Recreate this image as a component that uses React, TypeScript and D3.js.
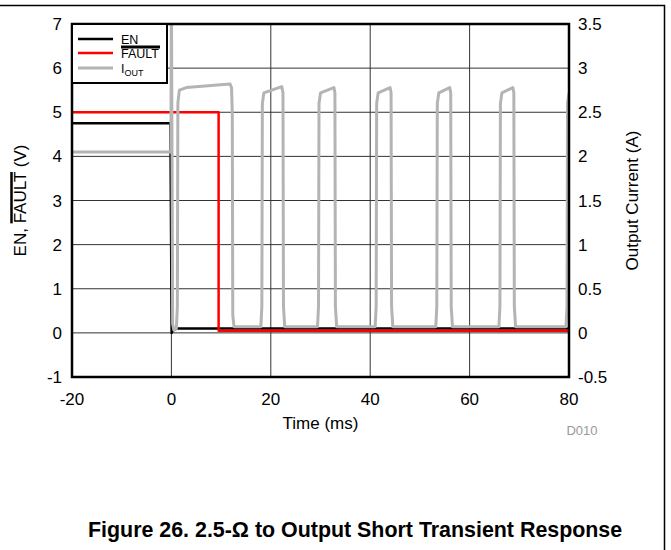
import React, { useEffect, useRef } from "react";
import * as d3 from "d3";

const xTicks = [-20, 0, 20, 40, 60, 80];
const yLeftTicks = [-1, 0, 1, 2, 3, 4, 5, 6, 7];
const yRightTicks = [-0.5, 0, 0.5, 1, 1.5, 2, 2.5, 3, 3.5];

// EN (V)
const enTime = [-20, -0.2, 0.05, 0.4, 1.2, 80];
const enVolt = [4.75, 4.75, 0.0, 0.06, 0.1, 0.1];

// FAULT (V)
const faultTime = [-20, 9.5, 9.5, 80];
const faultVolt = [5, 5, 0.05, 0.05];

// IOUT (A)
const ioutTime = [
  -20, -0.1, 0.0, 0.25, 0.5, 1.0, 1.2, 1.3, 1.6, 3, 11.8, 12.1, 12.25, 12.35, 12.6,
  18.0, 18.2, 18.3, 18.6, 22.2, 22.45, 22.55, 22.8,
  29.4, 29.6, 29.7, 30.0, 32.7, 32.9, 33.0, 33.25,
  41.0, 41.2, 41.3, 41.6, 44.0, 44.2, 44.3, 44.55,
  53.2, 53.4, 53.5, 53.8, 56.0, 56.2, 56.3, 56.55,
  65.9, 66.1, 66.2, 66.5, 68.7, 68.9, 69.0, 69.25,
  79.4, 79.6, 79.7, 80,
];
const ioutAmp = [
  2.05, 2.05, 3.9, 0.1, 0.03, 0.05, 0.3, 2.6, 2.75, 2.78, 2.82, 2.78, 2.5, 0.2, 0.07,
  0.07, 0.3, 2.6, 2.72, 2.79, 2.72, 0.3, 0.07,
  0.07, 0.3, 2.6, 2.72, 2.78, 2.72, 0.3, 0.07,
  0.07, 0.3, 2.6, 2.72, 2.78, 2.72, 0.3, 0.07,
  0.07, 0.3, 2.6, 2.72, 2.78, 2.72, 0.3, 0.07,
  0.07, 0.3, 2.6, 2.72, 2.78, 2.72, 0.3, 0.07,
  0.07, 0.3, 2.6, 2.72,
];

const FONT = "Arial, 'Liberation Sans', sans-serif";

export default function App() {
  const ref = useRef<SVGSVGElement | null>(null);

  useEffect(() => {
    const svg = d3.select(ref.current);
    svg.selectAll("*").remove();

    const left = 72, right = 569, top = 24, bottom = 377;
    const x = d3.scaleLinear().domain([-20, 80]).range([left, right]);
    const yL = d3.scaleLinear().domain([-1, 7]).range([bottom, top]);
    const yR = d3.scaleLinear().domain([-0.5, 3.5]).range([bottom, top]);

    svg.append("rect").attr("width", 671).attr("height", 550).attr("fill", "#fff");

    // outer frame
    svg.append("path").attr("d", "M0,5.5 H664.5 V550").attr("fill", "none")
      .attr("stroke", "#000").attr("stroke-width", 1.5);

    // grid
    const grid = svg.append("g").attr("stroke", "#333").attr("stroke-width", 1);
    xTicks.forEach((t) => {
      grid.append("line").attr("x1", x(t)).attr("x2", x(t)).attr("y1", top).attr("y2", bottom);
    });
    yLeftTicks.forEach((t) => {
      grid.append("line").attr("x1", left).attr("x2", right).attr("y1", yL(t)).attr("y2", yL(t));
    });

    // clip
    svg.append("clipPath").attr("id", "plotclip").append("rect")
      .attr("x", left).attr("y", top).attr("width", right - left).attr("height", bottom - top);

    const data = svg.append("g").attr("clip-path", "url(#plotclip)");

    const enPts = enTime.map((t, i) => [x(t), yL(enVolt[i])] as [number, number]);
    const faultPts = faultTime.map((t, i) => [x(t), yL(faultVolt[i])] as [number, number]);
    const ioutPts = ioutTime.map((t, i) => [x(t), yR(ioutAmp[i])] as [number, number]);
    const ln = d3.line();

    data.append("path").attr("d", ln(enPts)).attr("fill", "none").attr("stroke", "#000")
      .attr("stroke-width", 2.5).attr("stroke-linejoin", "round");
    data.append("path").attr("d", ln(faultPts)).attr("fill", "none").attr("stroke", "#ff0000")
      .attr("stroke-width", 2.5).attr("stroke-linejoin", "round");
    data.append("path").attr("d", ln(ioutPts)).attr("fill", "none").attr("stroke", "#b4b4b4")
      .attr("stroke-width", 3).attr("stroke-linejoin", "round");

    // plot border
    svg.append("rect").attr("x", left).attr("y", top).attr("width", right - left)
      .attr("height", bottom - top).attr("fill", "none").attr("stroke", "#000").attr("stroke-width", 2.5);

    // tick labels
    const tl = svg.append("g").attr("font-family", FONT).attr("font-size", 17).attr("fill", "#000");
    xTicks.forEach((t) => {
      tl.append("text").attr("x", x(t)).attr("y", 405).attr("text-anchor", "middle").text(String(t));
    });
    yLeftTicks.forEach((t) => {
      tl.append("text").attr("x", 62).attr("y", yL(t) + 6).attr("text-anchor", "end").text(String(t));
    });
    yRightTicks.forEach((t) => {
      tl.append("text").attr("x", 578).attr("y", yR(t) + 6).attr("text-anchor", "start").text(String(t));
    });

    // axis titles
    svg.append("text").attr("x", (left + right) / 2).attr("y", 429).attr("text-anchor", "middle")
      .attr("font-family", FONT).attr("font-size", 17).text("Time (ms)");

    const gl = svg.append("g").attr("transform", `translate(26,${(top + bottom) / 2}) rotate(-90)`);
    const ylab = gl.append("text").attr("x", 0).attr("y", 0).attr("text-anchor", "middle")
      .attr("font-family", FONT).attr("font-size", 17).text("EN, FAULT (V)");
    const ylNode = ylab.node() as SVGTextElement;
    try {
      const s = ylNode.getStartPositionOfChar(4);
      const e = ylNode.getEndPositionOfChar(8);
      gl.append("line").attr("x1", s.x).attr("x2", e.x).attr("y1", -14.5).attr("y2", -14.5)
        .attr("stroke", "#000").attr("stroke-width", 2.5);
    } catch (err) { /* ignore */ }

    svg.append("g").attr("transform", `translate(638,${(top + bottom) / 2}) rotate(-90)`)
      .append("text").attr("text-anchor", "middle").attr("font-family", FONT).attr("font-size", 17)
      .text("Output Current (A)");

    svg.append("text").attr("x", 582).attr("y", 435).attr("text-anchor", "middle")
      .attr("font-family", FONT).attr("font-size", 13).attr("fill", "#999").text("D010");

    // legend
    const lg = svg.append("g");
    lg.append("rect").attr("x", left).attr("y", top).attr("width", 95).attr("height", 59)
      .attr("fill", "#fff").attr("stroke", "#000").attr("stroke-width", 2);
    const items = [
      { c: "#000", y: 39 },
      { c: "#ff0000", y: 53 },
      { c: "#b4b4b4", y: 68 },
    ];
    items.forEach((it) => {
      lg.append("line").attr("x1", 78).attr("x2", 113).attr("y1", it.y).attr("y2", it.y)
        .attr("stroke", it.c).attr("stroke-width", it.c === "#b4b4b4" ? 3 : 2.5);
    });
    const lt = lg.append("g").attr("font-family", FONT).attr("font-size", 12.5).attr("fill", "#000");
    lt.append("text").attr("x", 121).attr("y", 43.5).text("EN");
    const ft = lt.append("text").attr("x", 121).attr("y", 57.5).text("FAULT");
    const fw = (ft.node() as SVGTextElement).getComputedTextLength();
    lg.append("line").attr("x1", 121).attr("x2", 121 + fw + 1).attr("y1", 47).attr("y2", 47)
      .attr("stroke", "#000").attr("stroke-width", 3);
    const it3 = lt.append("text").attr("x", 121).attr("y", 72.5);
    it3.append("tspan").text("I");
    it3.append("tspan").attr("font-size", 9).attr("dy", 3).text("OUT");

    // caption
    svg.append("text").attr("x", 88).attr("y", 537).attr("font-family", FONT)
      .attr("font-weight", "bold").attr("font-size", 21.4).text("Figure 26. 2.5-Ω to Output Short Transient Response");
  }, []);

  return (
    <svg ref={ref} width={671} height={550}
      style={{ position: "absolute", left: 0, top: 0, display: "block" }} />
  );
}
